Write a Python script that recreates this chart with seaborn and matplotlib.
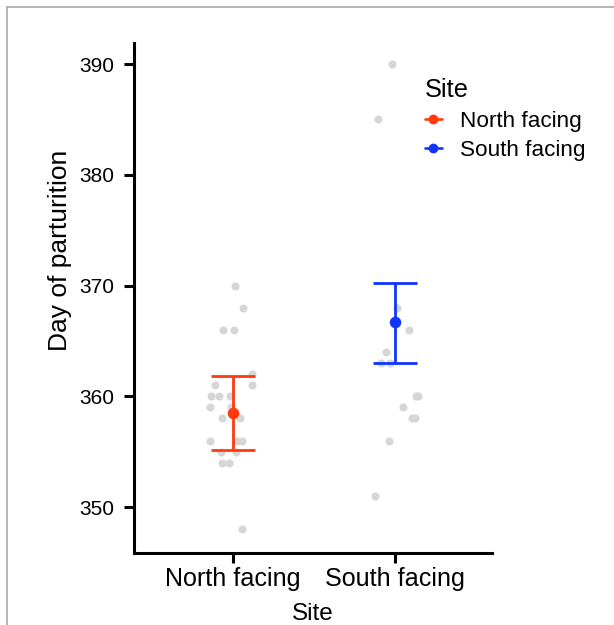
import numpy as np
import pandas as pd
import matplotlib
matplotlib.use("Agg")
import matplotlib.pyplot as plt
from matplotlib.lines import Line2D
import seaborn as sns

# ---- data ----
sites = ["North facing", "South facing"]
north_days = [370, 368, 366, 366, 362, 361, 361, 360, 360, 360, 359, 359,
              358, 358, 356, 356, 356, 355, 355, 354, 354, 348]
south_days = [390, 385, 368, 366, 364, 363, 363, 360, 360, 359, 358, 358,
              356, 351]
est_means = [358.5, 366.7]
ci_low = [355.15, 363.05]
ci_high = [361.85, 370.25]
site_colors = ["#FF3A0E", "#0F35FF"]

raw = pd.DataFrame({
    "Site": [sites[0]] * len(north_days) + [sites[1]] * len(south_days),
    "Day": north_days + south_days,
})
est = pd.DataFrame({"Site": sites, "mean": est_means, "lo": ci_low, "hi": ci_high})

sns.set_theme(style="ticks")
plt.rcParams["font.family"] = ["Liberation Sans", "DejaVu Sans"]
plt.rcParams["text.color"] = "black"
plt.rcParams["axes.labelcolor"] = "black"
plt.rcParams["xtick.color"] = "black"
plt.rcParams["ytick.color"] = "black"

fig = plt.figure(figsize=(6.14, 6.25), dpi=100)
ax = fig.add_axes([134 / 614, 1 - 553 / 625, (492 - 134) / 614, (553 - 43) / 625])

np.random.seed(3)
sns.stripplot(data=raw, x="Site", y="Day", order=sites, color="#d6d6d6",
              jitter=0.15, size=5.8, linewidth=0, ax=ax, zorder=1, legend=False)

pal = dict(zip(sites, site_colors))
sns.pointplot(data=est, x="Site", y="mean", hue="Site", order=sites,
              hue_order=sites, palette=pal, errorbar=None, linestyles="none",
              markers="o", markersize=6.3, ax=ax, zorder=3, legend=False)
for i, row in est.iterrows():
    ax.errorbar(sites.index(row["Site"]), row["mean"],
                yerr=[[row["mean"] - row["lo"]], [row["hi"] - row["mean"]]],
                fmt="none", ecolor=pal[row["Site"]], elinewidth=2.0,
                capsize=15.8, capthick=2.0, zorder=2)

ax.set_xlim(-0.611, 1.599)
ax.set_ylim(345.85, 391.9)
ax.set_yticks([350, 360, 370, 380, 390])
ax.set_xlabel("Site", fontsize=17.5, labelpad=9)
ax.set_ylabel("Day of parturition", fontsize=19)
ax.yaxis.set_label_coords(-0.172, 0.594)
ax.tick_params(axis="y", labelsize=15, length=7, width=2.2, pad=7)
ax.tick_params(axis="x", labelsize=18.1, length=7, width=2.2, pad=3)
for s in ["left", "bottom"]:
    ax.spines[s].set_linewidth(2.2)
    ax.spines[s].set_color("black")
sns.despine(ax=ax)

handles = [Line2D([0], [0], color=c, marker="o", markersize=6, lw=1.9) for c in site_colors]
leg = ax.legend(handles, sites, title="Site", loc="upper left",
                bbox_to_anchor=((425 - 134) / 358, (553 - 78) / 510), frameon=False,
                fontsize=16.2, title_fontsize=18.3, handlelength=0.75,
                handletextpad=0.8, labelspacing=0.38, borderpad=0,
                borderaxespad=0, alignment="left")

# thin grey frame at top/left of the image
fig.add_artist(Line2D([6.5 / 614, 6.5 / 614], [0, 1 - 6.5 / 625], color="#a8a8a8", lw=1.2,
                      transform=fig.transFigure))
fig.add_artist(Line2D([6.5 / 614, 1], [1 - 6.5 / 625, 1 - 6.5 / 625], color="#a8a8a8", lw=1.2,
                      transform=fig.transFigure))

fig.savefig("out.png", dpi=100)
